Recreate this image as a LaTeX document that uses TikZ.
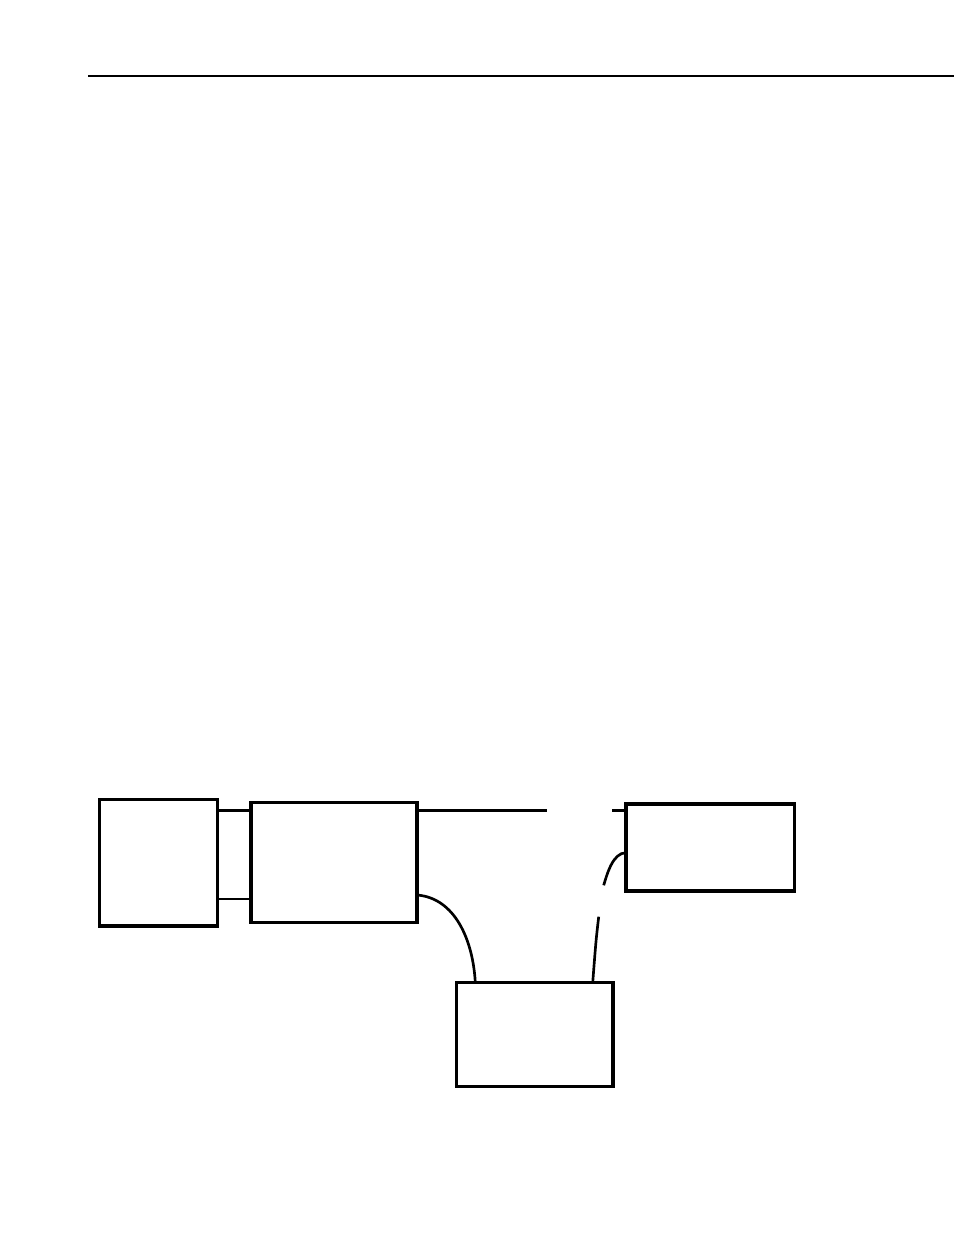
\documentclass[tikz,border=0pt]{standalone}
\tikzset{
  unit/.style 2 args={draw, line width=2.4pt, inner sep=0pt, outer sep=0pt,
    minimum width=#1*0.75pt, minimum height=#2*0.75pt},
  wire/.style={line width=2pt}}
\begin{document}
\begin{tikzpicture}[x=0.75pt, y=-0.75pt]
  \useasboundingbox (0,0) rectangle (954,1235);
  \draw [line width=1.1pt] (88,76) -- (954,76);
  \node [unit={117.8}{126.7}] (src) at (158.4,862.7) {};
  \node [unit={166}{119.6}] (ctrl) at (334,862.5) {};
  \node [unit={168.7}{87}] (dev) at (710.3,847.5) {};
  \node [unit={156.7}{103.6}] (base) at (534.7,1034.5) {};
  \coordinate (g1) at (547,810.7);
  \coordinate (g2) at (612,810.7);
  \coordinate (g3) at (603.7,885.3);
  \coordinate (g4) at (598.7,916.7);
  \draw [wire] (src.east |- 0,810.7) -- (ctrl.west |- 0,810.7);
  \draw [wire] (src.east |- 0,899) -- (ctrl.west |- 0,899);
  \draw [wire] (ctrl.east |- g1) -- (g1);
  \draw [wire] (g2) -- (dev.west |- g2);
  \draw [wire] (ctrl.east |- 0,895) .. controls (455,898) and (473,940) .. (base.north -| 475.3,0);
  \draw [wire] (dev.west |- 0,852.7) .. controls (613,852.7) and (607,874) .. (g3);
  \draw [wire] (g4) .. controls (596,940) .. (base.north -| 592.7,0);
\end{tikzpicture}
\end{document}
